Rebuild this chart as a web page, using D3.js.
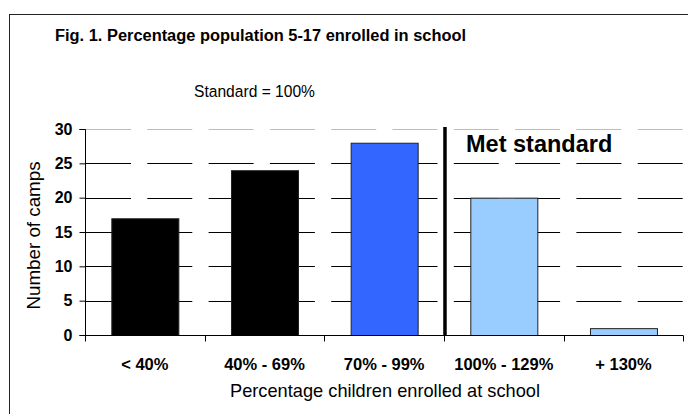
<!DOCTYPE html>
<html>
<head>
<meta charset="utf-8">
<script src="https://cdn.jsdelivr.net/npm/d3@7"></script>
<style>
  html, body { margin: 0; padding: 0; background: #fff; }
  svg { display: block; font-family: "Liberation Sans", Arial, sans-serif; }
</style>
</head>
<body>
<svg id="chart" width="688" height="414"></svg>
<script>
// Enrolment bands and number of camps in each
const categories = ["< 40%", "40% - 69%", "70% - 99%", "100% - 129%", "+ 130%"];
const camps = [17, 24, 28, 20, 1];
const barColors = ["#000000", "#000000", "#3366FF", "#99CCFF", "#99CCFF"];
const yTicks = [0, 5, 10, 15, 20, 25, 30];

const svg = d3.select("#chart");
const plot = { left: 85, right: 683.3, top: 129, bottom: 335 };

// outer frame
svg.append("rect")
  .attr("x", 9.5).attr("y", 14.5)
  .attr("width", 700).attr("height", 420)
  .attr("fill", "none").attr("stroke", "#222").attr("stroke-width", 1);

const x = d3.scaleBand().domain(categories).range([plot.left, plot.right]).paddingInner(0.44).paddingOuter(0.22);
const xb = d3.scaleBand().domain(categories).range([plot.left, plot.right]);
const y = d3.scaleLinear().domain([0, 30]).range([plot.bottom, plot.top]);

// horizontal gridlines
svg.append("g").selectAll("line").data(yTicks.filter(d => d > 0)).join("line")
  .attr("x1", plot.left + 1).attr("x2", plot.right)
  .attr("y1", d => Math.round(y(d)) + 0.5).attr("y2", d => Math.round(y(d)) + 0.5)
  .attr("stroke", d => d === 30 ? "#bdbdbd" : "#000")
  .attr("stroke-width", 1)
  .attr("stroke-dasharray", "45,16.3");

// bars
svg.append("g").selectAll("rect").data(categories).join("rect")
  .attr("x", d => x(d) + 0.5)
  .attr("y", (d, i) => y(camps[i]) + 0.5)
  .attr("width", x.bandwidth())
  .attr("height", (d, i) => y(0) - y(camps[i]))
  .attr("fill", (d, i) => barColors[i])
  .attr("stroke", "#222").attr("stroke-width", 1);

// y axis
const yAxis = svg.append("g")
  .attr("transform", `translate(${plot.left + 0.5},0)`)
  .call(d3.axisLeft(y).tickValues(yTicks).tickSize(6).tickPadding(7));
yAxis.select(".domain").attr("stroke", "#000").attr("d", `M-6,${Math.round(y(30)) + 0.5}H0V${Math.round(y(0)) + 0.5}H-6`);
yAxis.selectAll(".tick line").attr("stroke", "#000");
yAxis.selectAll(".tick text")
  .attr("font-size", 16).attr("font-weight", "bold").attr("fill", "#000")
  .attr("font-family", "Liberation Sans, Arial, sans-serif");

// x axis baseline with category boundary ticks
const xAxisG = svg.append("g").attr("transform", `translate(0,${Math.round(y(0)) + 0.5})`);
xAxisG.append("line").attr("x1", plot.left).attr("x2", plot.right).attr("stroke", "#000");
const bounds = categories.map(c => xb(c)).concat([plot.right]);
xAxisG.selectAll("line.tk").data(bounds).join("line").attr("class", "tk")
  .attr("x1", d => Math.round(d) + 0.5).attr("x2", d => Math.round(d) + 0.5)
  .attr("y1", 0).attr("y2", 6).attr("stroke", "#000");
xAxisG.selectAll("text").data(categories).join("text")
  .attr("x", d => xb(d) + xb.bandwidth() / 2)
  .attr("y", 34)
  .attr("text-anchor", "middle")
  .attr("font-size", 16.5).attr("font-weight", "bold")
  .text(d => d);

// standard marker between 70-99% and 100-129%
svg.append("line")
  .attr("x1", xb(categories[3]) + 1).attr("x2", xb(categories[3]) + 1)
  .attr("y1", 127).attr("y2", y(0))
  .attr("stroke", "#000").attr("stroke-width", 3.5);

svg.append("text")
  .attr("x", 466).attr("y", 152)
  .attr("font-size", 23.5).attr("font-weight", "bold")
  .text("Met standard");

// titles
svg.append("text")
  .attr("x", 55).attr("y", 40.5)
  .attr("font-size", 17.4).attr("font-weight", "bold")
  .attr("textLength", 411).attr("lengthAdjust", "spacingAndGlyphs")
  .text("Fig. 1. Percentage population 5-17 enrolled in school");

svg.append("text")
  .attr("x", 194).attr("y", 97)
  .attr("font-size", 17.2)
  .attr("textLength", 121).attr("lengthAdjust", "spacingAndGlyphs")
  .text("Standard = 100%");

svg.append("text")
  .attr("x", 230).attr("y", 397)
  .attr("font-size", 19)
  .attr("textLength", 310).attr("lengthAdjust", "spacingAndGlyphs")
  .text("Percentage children enrolled at school");

svg.append("text")
  .attr("transform", `translate(40,235.5) rotate(-90)`)
  .attr("text-anchor", "middle")
  .attr("font-size", 18.8)
  .text("Number of camps");
</script>
</body>
</html>
